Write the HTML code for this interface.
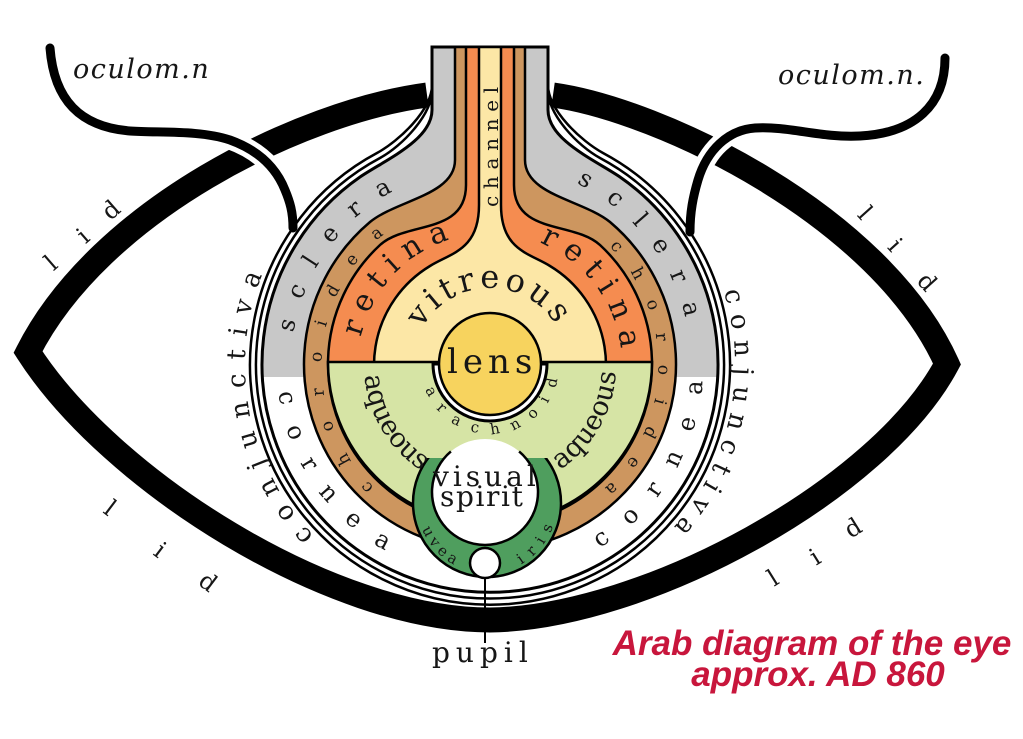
<!DOCTYPE html>
<html>
<head>
<meta charset="utf-8">
<style>
  html,body{margin:0;padding:0;background:#fff;}
  svg{display:block;}
  .lbl{font-family:"DejaVu Serif","Liberation Serif",serif;fill:#161616;}
</style>
</head>
<body>
<svg xmlns="http://www.w3.org/2000/svg" xmlns:xlink="http://www.w3.org/1999/xlink" width="1023" height="739" viewBox="0 0 1023 739">
  <defs>
    <clipPath id="upper"><rect x="0" y="0" width="1023" height="377"/></clipPath>
    <clipPath id="ringclip"><rect x="0" y="458" width="1023" height="300"/></clipPath>

    <path id="conjL" d="M332.5,552.7 A245,245 0 0 1 277.8,242.5"/>
    <path id="conjR" d="M712,261.5 A245,245 0 0 1 647.5,552.7"/>
    <path id="scleraL" d="M291.8,347.7 A199,199 0 0 1 405.9,184.6"/>
    <path id="scleraR" d="M558.7,176.1 A201,201 0 0 1 690.2,347.5"/>
    <path id="choroidL" d="M382,493.7 A168,168 0 0 1 393.6,227.4"/>
    <path id="choroidR" d="M598,236.3 A168,168 0 0 1 586.4,502.6"/>
    <path id="retinaL" d="M360,342.1 A132,132 0 0 1 467.1,235"/>
    <path id="retinaR" d="M524.2,237.5 A132,132 0 0 1 621.5,353.5"/>
    <path id="vitreous" d="M417.6,338.7 A77,77 0 0 1 562.4,338.7"/>
    <path id="arach" d="M423.4,382.9 A69,69 0 0 0 558.7,371"/>
    <path id="aqL" d="M364.3,373.8 A126,126 0 0 0 427,474.1"/>
    <path id="aqR" d="M556.8,471.9 A126,126 0 0 0 616,365"/>
    <path id="corneaL" d="M277.8,383.6 A213,213 0 0 0 400,558"/>
    <path id="corneaR" d="M590,553 A213,213 0 0 0 702.7,353.9"/>
    <path id="uveaP" d="M421.2,526.9 A70,70 0 0 0 474.8,571.9"/>
    <path id="irisP" d="M516.6,566.4 A70,70 0 0 0 555.9,515.2"/>
  </defs>

  <rect x="0" y="0" width="1023" height="739" fill="#fff"/>

  <!-- conjunctiva outer layers -->
  <path d="M432,47 V85 C432,110 399,141 377,153 A240,240 0 1 0 603,153 C581,141 548,110 548,85 V47 Z" fill="#fff" stroke="#000" stroke-width="2.5"/>
  <path d="M432,47 V90 C432,115 402,146 380,158 A234,234 0 1 0 600,158 C578,146 548,115 548,90 V47 Z" fill="#fff" stroke="#000" stroke-width="2.5"/>

  <!-- sclera (gray above, cornea white below) -->
  <path d="M432,47 V110 C432,140 385,160 360,177 A228,228 0 1 0 620,177 C595,160 548,140 548,110 V47 Z" fill="#fff"/>
  <path d="M432,47 V110 C432,140 385,160 360,177 A228,228 0 1 0 620,177 C595,160 548,140 548,110 V47 Z" fill="#c8c8c8" clip-path="url(#upper)"/>
  <path d="M432,47 V110 C432,140 385,160 360,177 A228,228 0 1 0 620,177 C595,160 548,140 548,110 V47 Z" fill="none" stroke="#000" stroke-width="3"/>

  <!-- choroid brown -->
  <path d="M455,47 V160 C455,195 397,200 370,222 A186,186 0 1 0 610,222 C583,200 525,195 525,160 V47 Z" fill="#cd965f" stroke="#000" stroke-width="2.5"/>
  <!-- retina orange -->
  <path d="M466,47 V185 C466,235 406,221 380,245 A162,162 0 1 0 600,245 C574,221 514,235 514,185 V47 Z" fill="#f58c50" stroke="#000" stroke-width="2.5"/>
  <!-- vitreous yellow -->
  <path d="M479,47 V205 C479,250 451,253 430,266 A116,116 0 1 0 550,266 C529,253 501,250 501,205 V47 Z" fill="#fce7a6" stroke="#000" stroke-width="2.5"/>
  <!-- aqueous green -->
  <path d="M328,362 A162,162 0 0 0 652,362 Z" fill="#d6e4a5" stroke="#000" stroke-width="2.5"/>

  <!-- lens with arachnoid cup -->
  <path d="M433,364 A57,57 0 0 0 547,364 Z" fill="#fff" stroke="#000" stroke-width="3"/>
  <circle cx="490" cy="364" r="51" fill="#f7d35e" stroke="#000" stroke-width="2.5"/>

  <!-- uvea ring, visual spirit, pupil -->
  <circle cx="487" cy="503" r="74" fill="#4f9e5e" stroke="#000" stroke-width="2.5" clip-path="url(#ringclip)"/>
  <circle cx="485" cy="492" r="53" fill="#fff"/>
  <path d="M450.9,451.4 A53,53 0 1 0 519.1,451.4" fill="none" stroke="#000" stroke-width="2.5"/>
  <circle cx="485" cy="563" r="15" fill="#fff" stroke="#000" stroke-width="2.5"/>
  <line x1="485" y1="578" x2="485" y2="643" stroke="#000" stroke-width="2"/>

  <!-- lids -->
  <path d="M427,95 C300,112 100,210 28,352 C110,480 330,620 490,620 C645,618 880,490 947,364 C880,215 660,110 553,95" fill="none" stroke="#000" stroke-width="25" stroke-linejoin="miter" stroke-miterlimit="10"/>

  <!-- nerves -->
  <path d="M230,140 C255,149 275,165 285,190" fill="none" stroke="#fff" stroke-width="19"/>
  <path d="M755,128 C728,130 707,150 698,180" fill="none" stroke="#fff" stroke-width="19"/>
  <path d="M50,48 C54,100 80,127 130,131 C160,133 200,130 230,140 C255,149 275,165 285,190 C290,202 293,212 293,228" fill="none" stroke="#000" stroke-width="9" stroke-linecap="round"/>
  <path d="M945,58 C945,105 915,133 860,136 C820,138 790,126 755,128 C728,130 707,150 698,180 C693,197 690,212 690,232" fill="none" stroke="#000" stroke-width="9" stroke-linecap="round"/>

  <!-- nerve labels -->
  <text class="lbl" x="73" y="78" font-size="27" font-style="italic" letter-spacing="1.5">oculom.n</text>
  <text class="lbl" x="778" y="84" font-size="27" font-style="italic" letter-spacing="1.5">oculom.n.</text>

  <!-- lid labels -->
  <g class="lbl" font-size="24" text-anchor="middle">
    <text transform="translate(51,263) rotate(-41)" y="8">l</text>
    <text transform="translate(83,236) rotate(-41)" y="8">i</text>
    <text transform="translate(111,210) rotate(-41)" y="8">d</text>

    <text transform="translate(110,508) rotate(37)" y="8">l</text>
    <text transform="translate(160,550) rotate(37)" y="8">i</text>
    <text transform="translate(208,582) rotate(37)" y="8">d</text>

    <text transform="translate(865,213) rotate(48)" y="8">l</text>
    <text transform="translate(895,245) rotate(48)" y="8">i</text>
    <text transform="translate(927,282) rotate(48)" y="8">d</text>

    <text transform="translate(773,578) rotate(-32)" y="8">l</text>
    <text transform="translate(815,557) rotate(-32)" y="8">i</text>
    <text transform="translate(853,528) rotate(-32)" y="8">d</text>
  </g>

  <!-- curved labels -->
  <text class="lbl" font-size="26" letter-spacing="12.9"><textPath href="#conjL" xlink:href="#conjL" startOffset="25">conjunctiva</textPath></text>
  <text class="lbl" font-size="26" letter-spacing="10"><textPath href="#conjR" xlink:href="#conjR" startOffset="32">conjunctiva</textPath></text>

  <text class="lbl" font-size="24" letter-spacing="21"><textPath href="#scleraL" xlink:href="#scleraL" startOffset="15">sclera</textPath></text>
  <text class="lbl" font-size="24" letter-spacing="21"><textPath href="#scleraR" xlink:href="#scleraR" startOffset="19">sclera</textPath></text>

  <text class="lbl" font-size="17" letter-spacing="25"><textPath href="#choroidL" xlink:href="#choroidL" startOffset="10">choroidea</textPath></text>
  <text class="lbl" font-size="17" letter-spacing="23"><textPath href="#choroidR" xlink:href="#choroidR" startOffset="15">choroidea</textPath></text>

  <text class="lbl" font-size="30" letter-spacing="9.4"><textPath href="#retinaL" xlink:href="#retinaL" startOffset="5">retina</textPath></text>
  <text class="lbl" font-size="30" letter-spacing="9.8"><textPath href="#retinaR" xlink:href="#retinaR" startOffset="16">retina</textPath></text>

  <text class="lbl" font-size="32" letter-spacing="4.2"><textPath href="#vitreous" xlink:href="#vitreous" startOffset="11">vitreous</textPath></text>

  <text class="lbl" font-size="15" letter-spacing="12.6"><textPath href="#arach" xlink:href="#arach" startOffset="7">arachnoid</textPath></text>

  <text class="lbl" font-size="27" letter-spacing="0"><textPath href="#aqL" xlink:href="#aqL" startOffset="2">aqueous</textPath></text>
  <text class="lbl" font-size="27" letter-spacing="0.4"><textPath href="#aqR" xlink:href="#aqR" startOffset="4">aqueous</textPath></text>

  <text class="lbl" font-size="24" letter-spacing="22.8"><textPath href="#corneaL" xlink:href="#corneaL" startOffset="9">cornea</textPath></text>
  <text class="lbl" font-size="24" letter-spacing="24"><textPath href="#corneaR" xlink:href="#corneaR" startOffset="11">cornea</textPath></text>

  <text class="lbl" font-size="15" letter-spacing="4.3"><textPath href="#uveaP" xlink:href="#uveaP" startOffset="2.4">uvea</textPath></text>
  <text class="lbl" font-size="15" letter-spacing="8.8"><textPath href="#irisP" xlink:href="#irisP" startOffset="4.9">iris</textPath></text>

  <!-- straight labels -->
  <text class="lbl" transform="translate(498,207) rotate(-90)" font-size="20" letter-spacing="6.7">channel</text>
  <text class="lbl" x="447" y="373" font-size="34" letter-spacing="5">lens</text>
  <text class="lbl" x="433" y="486" font-size="28" letter-spacing="4">visual</text>
  <text class="lbl" x="440" y="506" font-size="28" letter-spacing="1.6">spirit</text>
  <text class="lbl" x="432" y="662" font-size="28" letter-spacing="6">pupil</text>

  <!-- caption -->
  <g font-family="'Liberation Sans', Arial, sans-serif" font-weight="bold" font-style="italic" fill="#c8163c" text-anchor="middle">
    <text x="812" y="655" font-size="35">Arab diagram of the eye</text>
    <text x="818" y="686" font-size="35">approx. AD 860</text>
  </g>
</svg>
</body>
</html>
